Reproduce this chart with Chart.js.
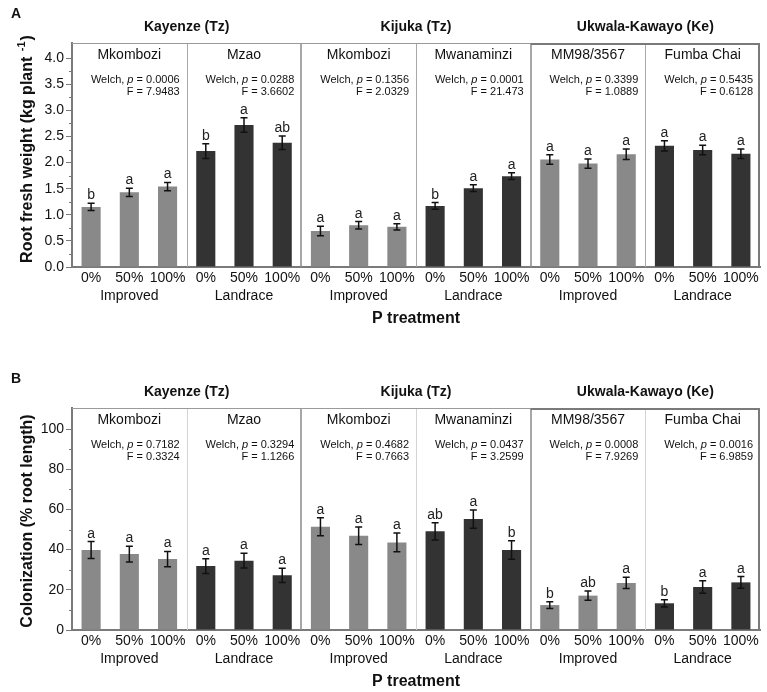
<!DOCTYPE html>
<html>
<head>
<meta charset="utf-8">
<script src="https://cdn.jsdelivr.net/npm/chart.js@4.4.1/dist/chart.umd.min.js"></script>
<style>
  body { margin: 0; background: #fff; }
  .panel { position: relative; width: 767px; }
</style>
</head>
<body>
<div class="panel" style="height:330px"><canvas id="chartA"></canvas></div>
<div class="panel" style="height:362px"><canvas id="chartB"></canvas></div>
<script>
// values, 6 cultivar groups x 3 P treatments
const treatments = ['0%', '50%', '100%'];
const sites = ['Kayenze (Tz)', 'Kijuka (Tz)', 'Ukwala-Kawayo (Ke)'];
const cultivars = ['Mkombozi', 'Mzao', 'Mkombozi', 'Mwanaminzi', 'MM98/3567', 'Fumba Chai'];
const cultivarTypes = ['Improved', 'Landrace', 'Improved', 'Landrace', 'Improved', 'Landrace'];

const weightMeans = [1.15, 1.43, 1.54, 2.22, 2.72, 2.38, 0.69, 0.80, 0.77, 1.17, 1.51, 1.74, 2.06, 1.98, 2.16, 2.32, 2.24, 2.17];
const weightErrors = [0.07, 0.08, 0.08, 0.14, 0.14, 0.13, 0.09, 0.07, 0.06, 0.065, 0.065, 0.065, 0.09, 0.09, 0.1, 0.1, 0.09, 0.09];
const weightLetters = ['b', 'a', 'a', 'b', 'a', 'ab', 'a', 'a', 'a', 'b', 'a', 'a', 'a', 'a', 'a', 'a', 'a', 'a'];
const weightWelchP = ['0.0006', '0.0288', '0.1356', '0.0001', '0.3399', '0.5435'];
const weightF = ['7.9483', '3.6602', '2.0329', '21.473', '1.0889', '0.6128'];

const colonMeans = [39.8, 37.8, 35.3, 31.8, 34.5, 27.2, 51.4, 46.9, 43.6, 49.1, 55.2, 39.8, 12.4, 17.1, 23.4, 13.3, 21.4, 23.7];
const colonErrors = [4.2, 3.9, 3.8, 3.7, 3.7, 3.5, 4.5, 4.4, 4.7, 4.3, 4.5, 4.6, 1.7, 2.3, 2.8, 1.8, 3.1, 2.9];
const colonLetters = ['a', 'a', 'a', 'a', 'a', 'a', 'a', 'a', 'a', 'ab', 'a', 'b', 'b', 'ab', 'a', 'b', 'a', 'a'];
const colonWelchP = ['0.7182', '0.3294', '0.4682', '0.0437', '0.0008', '0.0016'];
const colonF = ['0.3324', '1.1266', '0.7663', '3.2599', '7.9269', '6.9859'];

const FONT = 'Arial, "Liberation Sans", sans-serif';
const typeColors = { Improved: '#898989', Landrace: '#333333' };

const labels = [];
const barColors = [];
cultivars.forEach((c, g) => {
    treatments.forEach(t => {
        labels.push(t);
        barColors.push(typeColors[cultivarTypes[g]]);
    });
});

function makePanel(canvasId, cfg) {
    const decorations = {
        id: 'decorations',
        afterDraw(chart) {
            const ctx = chart.ctx;
            const area = chart.chartArea;
            const x = chart.scales.x;
            const y = chart.scales.y;
            const edge = i => (x.getPixelForValue(i) + x.getPixelForValue(i + 1)) / 2;
            const groupLeft = g => g === 0 ? area.left : edge(g * 3 - 1);
            const groupRight = g => g === 5 ? area.right : edge(g * 3 + 2);

            ctx.save();
            // minor ticks
            ctx.strokeStyle = '#777';
            ctx.lineWidth = 1;
            cfg.minor.forEach(v => {
                const py = Math.round(y.getPixelForValue(v)) + 0.5;
                ctx.beginPath();
                ctx.moveTo(area.left - 3, py);
                ctx.lineTo(area.left, py);
                ctx.stroke();
            });

            // cultivar dividers (light) and site dividers (dark)
            [1, 3, 5].forEach(g => {
                ctx.strokeStyle = cfg.divColor;
                ctx.lineWidth = 1;
                const px = Math.round(groupLeft(g)) + 0.5;
                ctx.beginPath();
                ctx.moveTo(px, area.top);
                ctx.lineTo(px, area.bottom);
                ctx.stroke();
            });
            [2, 4].forEach(g => {
                ctx.strokeStyle = '#8a8a8a';
                ctx.lineWidth = 1.5;
                const px = Math.round(groupLeft(g));
                ctx.beginPath();
                ctx.moveTo(px, area.top);
                ctx.lineTo(px, area.bottom);
                ctx.stroke();
            });
            // box tops and right side
            ctx.strokeStyle = '#9a9a9a';
            ctx.lineWidth = 1;
            ctx.beginPath();
            ctx.moveTo(area.left, area.top + 0.5);
            ctx.lineTo(groupLeft(4), area.top + 0.5);
            ctx.stroke();
            ctx.strokeStyle = '#7a7a7a';
            ctx.lineWidth = 2;
            ctx.beginPath();
            ctx.moveTo(groupLeft(4), area.top + 1);
            ctx.lineTo(area.right - 1, area.top + 1);
            ctx.lineTo(area.right - 1, area.bottom);
            ctx.stroke();

            // error bars and letters
            const meta = chart.getDatasetMeta(0);
            ctx.strokeStyle = '#111';
            ctx.lineWidth = 1.5;
            ctx.fillStyle = '#222';
            ctx.font = '14px ' + FONT;
            ctx.textAlign = 'center';
            ctx.textBaseline = 'alphabetic';
            cfg.means.forEach((m, i) => {
                const bx = meta.data[i].x;
                const hi = y.getPixelForValue(m + cfg.errors[i]);
                const lo = y.getPixelForValue(m - cfg.errors[i]);
                ctx.beginPath();
                ctx.moveTo(bx, hi);
                ctx.lineTo(bx, lo);
                ctx.moveTo(bx - 3.5, hi);
                ctx.lineTo(bx + 3.5, hi);
                ctx.moveTo(bx - 3.5, lo);
                ctx.lineTo(bx + 3.5, lo);
                ctx.stroke();
                ctx.fillText(cfg.letters[i], bx, hi - 4);
            });

            // cultivar names, Welch results, group type labels
            cultivars.forEach((c, g) => {
                const l = groupLeft(g), r = groupRight(g);
                const cx = (l + r) / 2;
                ctx.fillStyle = '#111';
                ctx.textAlign = 'center';
                ctx.textBaseline = 'middle';
                ctx.font = '14px ' + FONT;
                ctx.fillText(c, cx, area.top + 12);
                ctx.fillText(cultivarTypes[g], cx, area.bottom + 29);

                const rx = r - 7;
                const ty = area.top + 37;
                ctx.textBaseline = 'middle';
                ctx.textAlign = 'left';
                const s1 = 'Welch, ', s3 = ' = ' + cfg.welch[g];
                ctx.font = '11px ' + FONT;
                const w1 = ctx.measureText(s1).width;
                const w3 = ctx.measureText(s3).width;
                ctx.font = 'italic 11px ' + FONT;
                const w2 = ctx.measureText('p').width;
                let sx = rx - (w1 + w2 + w3);
                ctx.font = '11px ' + FONT;
                ctx.fillText(s1, sx, ty);
                ctx.font = 'italic 11px ' + FONT;
                ctx.fillText('p', sx + w1, ty);
                ctx.font = '11px ' + FONT;
                ctx.fillText(s3, sx + w1 + w2, ty);
                ctx.textAlign = 'right';
                ctx.fillText('F = ' + cfg.F[g], rx, ty + 12);
            });

            // site titles
            ctx.fillStyle = '#111';
            ctx.textAlign = 'center';
            ctx.textBaseline = 'middle';
            ctx.font = 'bold 14px ' + FONT;
            sites.forEach((s, k) => {
                const cx = (groupLeft(k * 2) + groupRight(k * 2 + 1)) / 2;
                ctx.fillText(s, cx, area.top - 16);
            });

            // panel letter
            ctx.textAlign = 'left';
            ctx.font = 'bold 14px ' + FONT;
            ctx.fillText(cfg.panel, 11, area.top - 29);

            // axis titles
            ctx.font = 'bold 16px ' + FONT;
            ctx.textAlign = 'center';
            ctx.fillText('P treatment', (area.left + area.right) / 2, area.bottom + 52);

            ctx.save();
            ctx.translate(28, (area.top + area.bottom) / 2 + cfg.yTitleShift);
            ctx.rotate(-Math.PI / 2);
            // title with optional superscript part
            ctx.font = 'bold 16px ' + FONT;
            const wMain = ctx.measureText(cfg.yTitle).width;
            const wEnd = ctx.measureText(cfg.yTitleEnd).width;
            ctx.font = 'bold 11px ' + FONT;
            const wSup = cfg.yTitleSup ? ctx.measureText(cfg.yTitleSup).width + 2 : 0;
            let tx = -(wMain + wSup + wEnd) / 2;
            ctx.textAlign = 'left';
            ctx.font = 'bold 16px ' + FONT;
            ctx.fillText(cfg.yTitle, tx, 0);
            if (cfg.yTitleSup) {
                ctx.font = 'bold 11px ' + FONT;
                ctx.fillText(cfg.yTitleSup, tx + wMain + 1, -6);
            }
            ctx.font = 'bold 16px ' + FONT;
            ctx.fillText(cfg.yTitleEnd, tx + wMain + wSup, 0);
            ctx.restore();

            ctx.restore();
        }
    };

    return new Chart(document.getElementById(canvasId), {
        type: 'bar',
        data: {
            labels: labels,
            datasets: [{
                data: cfg.means,
                backgroundColor: barColors,
                borderWidth: 0,
                barPercentage: 0.5,
                categoryPercentage: 1.0
            }]
        },
        options: {
            responsive: true,
            maintainAspectRatio: false,
            animation: false,
            layout: { padding: { left: 0, right: 7, top: cfg.top, bottom: 0 } },
            plugins: { legend: { display: false }, tooltip: { enabled: false } },
            scales: {
                x: {
                    grid: { display: false, drawTicks: false },
                    border: { display: true, color: '#7a7a7a', width: 2 },
                    ticks: { color: '#111', font: { family: FONT, size: 14 }, padding: 3, autoSkip: false, maxRotation: 0 },
                    afterFit: s => { s.height = cfg.xHeight; }
                },
                y: {
                    min: 0,
                    max: cfg.max,
                    grid: { drawOnChartArea: false, drawTicks: true, tickLength: 6, color: '#7a7a7a' },
                    border: { display: true, color: '#7a7a7a', width: 2 },
                    ticks: {
                        stepSize: cfg.step,
                        includeBounds: false,
                        padding: 2,
                        color: '#111',
                        font: { family: FONT, size: 14 },
                        callback: cfg.tickFmt
                    },
                    afterFit: s => { s.width = 72; }
                }
            }
        },
        plugins: [decorations]
    });
}

const weightMinor = [0.25, 0.75, 1.25, 1.75, 2.25, 2.75, 3.25, 3.75];
const colonMinor = [10, 30, 50, 70, 90];

makePanel('chartA', {
    panel: 'A', top: 43, xHeight: 63, max: 4.29, step: 0.5, minor: weightMinor,
    tickFmt: v => v.toFixed(1), divColor: '#a8a8a8',
    means: weightMeans, errors: weightErrors, letters: weightLetters,
    welch: weightWelchP, F: weightF,
    yTitle: 'Root fresh weight (kg plant ', yTitleSup: '-1', yTitleEnd: ')', yTitleShift: -6
});

makePanel('chartB', {
    panel: 'B', top: 78, xHeight: 62, max: 110.5, step: 20, minor: colonMinor,
    tickFmt: v => v, divColor: '#d4d4d4',
    means: colonMeans, errors: colonErrors, letters: colonLetters,
    welch: colonWelchP, F: colonF,
    yTitle: 'Colonization (% root length)', yTitleSup: '', yTitleEnd: '', yTitleShift: 2
});
</script>
</body>
</html>
